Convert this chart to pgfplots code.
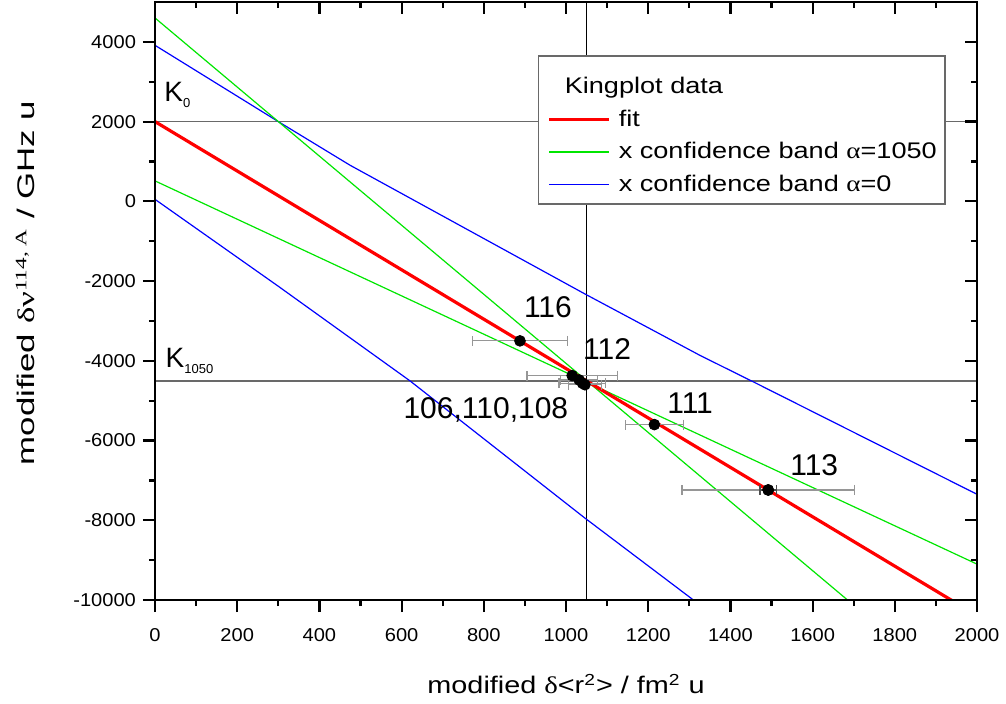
\documentclass[border=0pt]{standalone}
\usepackage{fontspec}
\setmainfont{Liberation Sans}
\newfontfamily\wide[FakeStretch=1.2]{Liberation Sans}
\newfontfamily\widey[FakeStretch=1.45]{Liberation Sans}
\newfontfamily\tickfont[FakeStretch=1.08]{Liberation Sans}
\newfontfamily\serif{Liberation Serif}
\newfontfamily\wideserif[FakeStretch=1.2]{Liberation Serif}
\newfontfamily\wideserify[FakeStretch=1.45]{Liberation Serif}
\usepackage{pgfplots}
\pgfplotsset{compat=1.18}
\definecolor{fitred}{RGB}{255,0,0}
\definecolor{bandgreen}{RGB}{0,230,0}
\definecolor{bandblue}{RGB}{0,0,255}
\definecolor{errgray}{RGB}{150,150,150}
\definecolor{kgray}{RGB}{105,105,105}
\begin{document}
\begin{tikzpicture}
\pgfplotsset{
  common/.style={
    width=411pt, height=299pt, scale only axis,
    xmin=0, xmax=2000, ymin=-10000, ymax=5000,
    xtick={0,200,...,2000}, ytick={-10000,-8000,...,4000},
    scaled x ticks=false, scaled y ticks=false,
    minor x tick num=1, minor y tick num=1,
    axis line style={line width=1.1pt},
    major tick length=6pt, minor tick length=3pt,
    tick style={line width=1.1pt, black},
  }
}
\begin{axis}[common,
  xtick pos=left, ytick pos=left, tick align=outside,
  ticklabel style={font=\tickfont\fontsize{9.3}{11}\selectfont},
  xticklabel style={yshift=-4.5pt},
  /pgf/number format/assume math mode=true,
  /pgf/number format/set thousands separator={},
  xlabel={modified {\wideserif δ}<r\textsuperscript{2}> / fm\textsuperscript{2} u},
  xlabel style={font=\wide\fontsize{12}{14}\selectfont, at={(axis description cs:0.5,-0.157)}, anchor=base},
  ylabel={modified {\wideserify δν}\textsuperscript{\wideserify 114, A} / GHz u},
  ylabel style={font=\widey\fontsize{12}{14}\selectfont, at={(axis description cs:-0.146,0.53)}, anchor=base, rotate=0},
  legend style={at={(axis description cs:0.466,0.911)}, anchor=north west,
    draw=kgray, line width=0.7pt, fill=white,
    font=\wide\fontsize{11.3}{13}\selectfont,
    inner xsep=4.5pt, inner ysep=3pt, row sep=2.5pt,
    nodes={inner xsep=2pt},
    /tikz/every odd column/.append style={column sep=2pt}},
  legend cell align=left,
]
\coordinate (bl) at (rel axis cs:0,0);
\coordinate (tr) at (rel axis cs:1,1);

% reference lines
\addplot[forget plot, kgray, line width=0.8pt] coordinates {(0,2000) (2000,2000)};
\addplot[forget plot, kgray, line width=0.8pt] coordinates {(0,-4500) (2000,-4500)};
\addplot[forget plot, black, line width=0.5pt] coordinates {(1050,-10000) (1050,5000)};

% x confidence band alpha=0 (blue)
\addplot[forget plot, bandblue, line width=0.6pt] coordinates {
 (0,3914) (300,2000) (474,909) (1046,-2323) (1326,-3864) (1462,-4560) (2000,-7348)};
\addplot[forget plot, bandblue, line width=0.6pt] coordinates {
 (0,50) (300,-2130) (620,-4500) (1044,-7929) (1310,-10000)};

% x confidence band alpha=1050 (green)
\addplot[forget plot, bandgreen, line width=0.6pt] coordinates {(0,4600) (1685,-10000)};
\addplot[forget plot, bandgreen, line width=0.6pt] coordinates {(0,513) (2000,-9100)};

% fit
\addplot[forget plot, fitred, line width=1.6pt] coordinates {(0,2000) (2000,-10390)};

% data with x error bars
\addplot[forget plot, only marks, mark=*, mark size=2.7pt, black,
  error bars/.cd, x dir=both, x explicit,
  error bar style={errgray, line width=0.6pt},
  error mark options={errgray, rotate=90, mark size=2.5pt, line width=0.6pt}]
  coordinates {
  (888,-3500) +- (115,0)
  (1015,-4370) +- (110,0)
  (1032,-4480) +- (45,0)
  (1040,-4560) +- (57,0)
  (1046,-4600) +- (40,0)
  (1215,-5600) +- (70,0)
  (1492,-7240) +- (210,0)
};
\addplot[forget plot, only marks, mark=*, mark size=2.7pt, black,
  error bars/.cd, x dir=both, x explicit,
  error bar style={black!70, line width=0.6pt},
  error mark options={black!70, rotate=90, mark size=2.5pt, line width=0.6pt}]
  coordinates {(1492,-7240) +- (20,0)};

% labels
\node[anchor=base, font=\fontsize{15}{17}\selectfont] at (axis cs:956,-2904) {116};
\node[anchor=base, font=\fontsize{15}{17}\selectfont] at (axis cs:1100,-3965) {112};
\node[anchor=base, font=\fontsize{15}{17}\selectfont] at (axis cs:805,-5455) {106,110,108};
\node[anchor=base, font=\fontsize{15}{17}\selectfont] at (axis cs:1302,-5330) {111};
\node[anchor=base, font=\fontsize{15}{17}\selectfont] at (axis cs:1604,-6870) {113};
\node[anchor=base west, inner sep=0pt, font=\fontsize{14}{16}\selectfont] at (axis cs:22,2500) {K\raisebox{-3pt}{\fontsize{6.5}{7}\selectfont 0}};
\node[anchor=base west, inner sep=0pt, font=\fontsize{14}{16}\selectfont] at (axis cs:25,-4167) {K\raisebox{-3pt}{\fontsize{6.5}{7}\selectfont 1050}};

% legend
\addlegendimage{empty legend}
\addlegendentry{\hspace*{-27pt}\rule{0pt}{14pt}Kingplot data}
\addlegendimage{legend image code/.code={\draw[fitred, line width=1.5pt] (0pt,0pt) -- (30pt,0pt);}}
\addlegendentry{fit}
\addlegendimage{legend image code/.code={\draw[bandgreen, line width=0.6pt] (0pt,0pt) -- (30pt,0pt);}}
\addlegendentry{x confidence band {\wideserif α}=1050\hspace*{-2.5pt}}
\addlegendimage{legend image code/.code={\draw[bandblue, line width=0.6pt] (0pt,0pt) -- (30pt,0pt);}}
\addlegendentry{x confidence band {\wideserif α}=0}
\end{axis}
\begin{axis}[common,
  xtick pos=right, ytick pos=right, tick align=inside,
  xticklabels={}, yticklabels={}]
\end{axis}
\pgfresetboundingbox
\path[use as bounding box] ([shift={(-77.5pt,-51.5pt)}]bl) rectangle ([shift={(14.5pt,1pt)}]tr);
\end{tikzpicture}
\end{document}
